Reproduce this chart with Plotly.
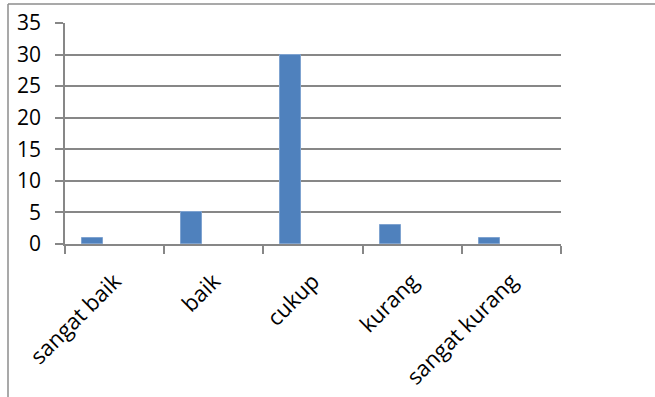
import plotly.graph_objects as go

# Rating categories and respondent counts
categories = ["sangat baik", "baik", "cukup", "kurang", "sangat kurang"]
counts = [1, 5, 30, 3, 1]
y_ticks = [0, 5, 10, 15, 20, 25, 30, 35]

W, H = 655, 397
ML, MR, MT, MB = 65, 94, 23, 153

grid = "#878787"
xfont = dict(family="Open Sans", size=22, color="#000000")
yfont = dict(family="Open Sans", size=21, color="#000000")

fig = go.Figure()
fig.add_trace(go.Bar(
    x=categories,
    y=counts,
    width=0.212,
    offset=-0.329,
    marker=dict(color="#4F81BD", line=dict(color="#7FA3D0", width=1)),
    showlegend=False,
))

# outer frame (top and left edges) in paper coordinates
pw, ph = W - ML - MR, H - MT - MB
fx0 = (8 - ML) / pw
fy1 = (H - MB - 4) / ph
fx1 = (W - ML) / pw
fy0 = (H - MB - H) / ph
fig.add_shape(type="line", xref="paper", yref="paper", x0=fx0, x1=fx1, y0=fy1, y1=fy1,
              line=dict(color="#8c8c8c", width=1.5))
fig.add_shape(type="line", xref="paper", yref="paper", x0=fx0, x1=fx0, y0=fy0, y1=fy1,
              line=dict(color="#8c8c8c", width=1.5))

fig.update_layout(
    width=W, height=H,
    margin=dict(l=ML, r=MR, t=MT, b=MB, pad=0),
    paper_bgcolor="white", plot_bgcolor="white",
    font=xfont,
    bargap=0,
    xaxis=dict(
        type="category",
        range=[-0.5, len(categories) - 0.5],
        tickson="boundaries",
        ticks="outside", ticklen=8, tickwidth=1.5, tickcolor=grid,
        showline=True, linecolor=grid, linewidth=1.5,
        showgrid=False,
        tickangle=-45,
        tickfont=xfont,
        ticklabelstandoff=14,
        automargin=False,
    ),
    yaxis=dict(
        range=[0, 35],
        tickvals=y_ticks,
        ticks="outside", ticklen=8, tickwidth=1.5, tickcolor=grid,
        showline=True, linecolor=grid, linewidth=1.5,
        showgrid=True, gridcolor=grid, gridwidth=1.5,
        zeroline=False,
        tickfont=yfont,
        ticklabelstandoff=10,
        automargin=False,
    ),
)

fig.write_html("out.html")
